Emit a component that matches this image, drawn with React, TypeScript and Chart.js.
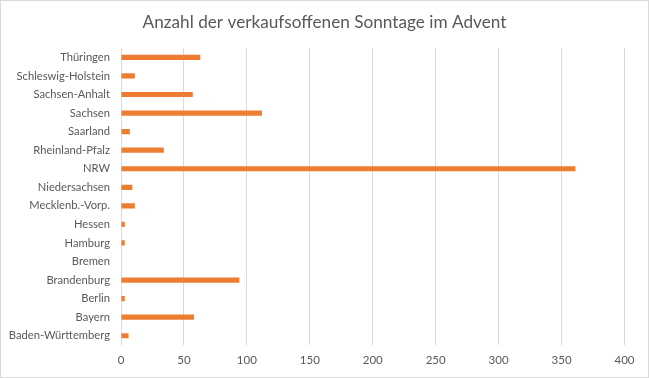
import React, { useEffect, useRef } from "react";
import { Chart, registerables } from "chart.js";

Chart.register(...registerables);

const title = "Anzahl der verkaufsoffenen Sonntage im Advent";

const states = [
  "Baden-Württemberg",
  "Bayern",
  "Berlin",
  "Brandenburg",
  "Bremen",
  "Hamburg",
  "Hessen",
  "Mecklenb.-Vorp.",
  "Niedersachsen",
  "NRW",
  "Rheinland-Pfalz",
  "Saarland",
  "Sachsen",
  "Sachsen-Anhalt",
  "Schleswig-Holstein",
  "Thüringen",
];

const sundays = [6, 58, 3, 94, 0, 3, 3, 11, 9, 361, 34, 7, 112, 57, 11, 63];

const xTicks = [0, 50, 100, 150, 200, 250, 300, 350, 400];

const FONT = "Lato, 'Open Sans', sans-serif";
const TEXT = "#595959";

export default function App() {
  const ref = useRef<HTMLCanvasElement | null>(null);

  useEffect(() => {
    document.body.style.margin = "0";
    const ctx = ref.current!;
    const chart = new Chart(ctx, {
      type: "bar",
      data: {
        labels: states,
        datasets: [
          {
            data: sundays,
            backgroundColor: "#ED7D31",
            borderWidth: 0,
            categoryPercentage: 1,
            barPercentage: 0.28,
          },
        ],
      },
      options: {
        indexAxis: "y",
        responsive: false,
        animation: false,
        layout: { padding: 0 },
        plugins: {
          legend: { display: false },
          tooltip: { enabled: false },
          title: {
            display: true,
            text: title,
            color: TEXT,
            font: { family: FONT, size: 17.2, weight: "normal" },
            padding: { top: 12, bottom: 15.5 },
          },
        },
        scales: {
          x: {
            min: 0,
            max: 400,
            afterBuildTicks: (s: any) => {
              s.ticks = xTicks.map((v) => ({ value: v }));
            },
            afterFit: (s: any) => {
              s.height = 33;
            },
            grid: { color: "#d9d9d9", drawTicks: false },
            border: { display: false },
            ticks: {
              color: TEXT,
              padding: 8,
              font: { family: FONT, size: 11.5 },
            },
          },
          y: {
            reverse: true,
            afterFit: (s: any) => {
              s.width = 121;
            },
            grid: { display: false, drawTicks: false },
            border: { display: false },
            ticks: {
              color: TEXT,
              padding: 11,
              autoSkip: false,
              font: { family: FONT, size: 11.2 },
            },
          },
          yRight: {
            type: "linear",
            position: "right",
            display: true,
            afterFit: (s: any) => {
              s.width = 24.5;
            },
            grid: { display: false, drawTicks: false },
            border: { display: false },
            ticks: { display: false },
          },
        },
      },
    });
    return () => chart.destroy();
  }, []);

  return (
    <div style={{ position: "relative", width: 649, height: 378, background: "#fff" }}>
      <canvas ref={ref} width={649} height={378} style={{ position: "absolute", left: 0, top: 0 }} />
      <div
        style={{
          position: "absolute",
          left: 0,
          top: 0,
          width: 649,
          height: 378,
          boxSizing: "border-box",
          border: "1px solid #d9d9d9",
          pointerEvents: "none",
        }}
      />
    </div>
  );
}
